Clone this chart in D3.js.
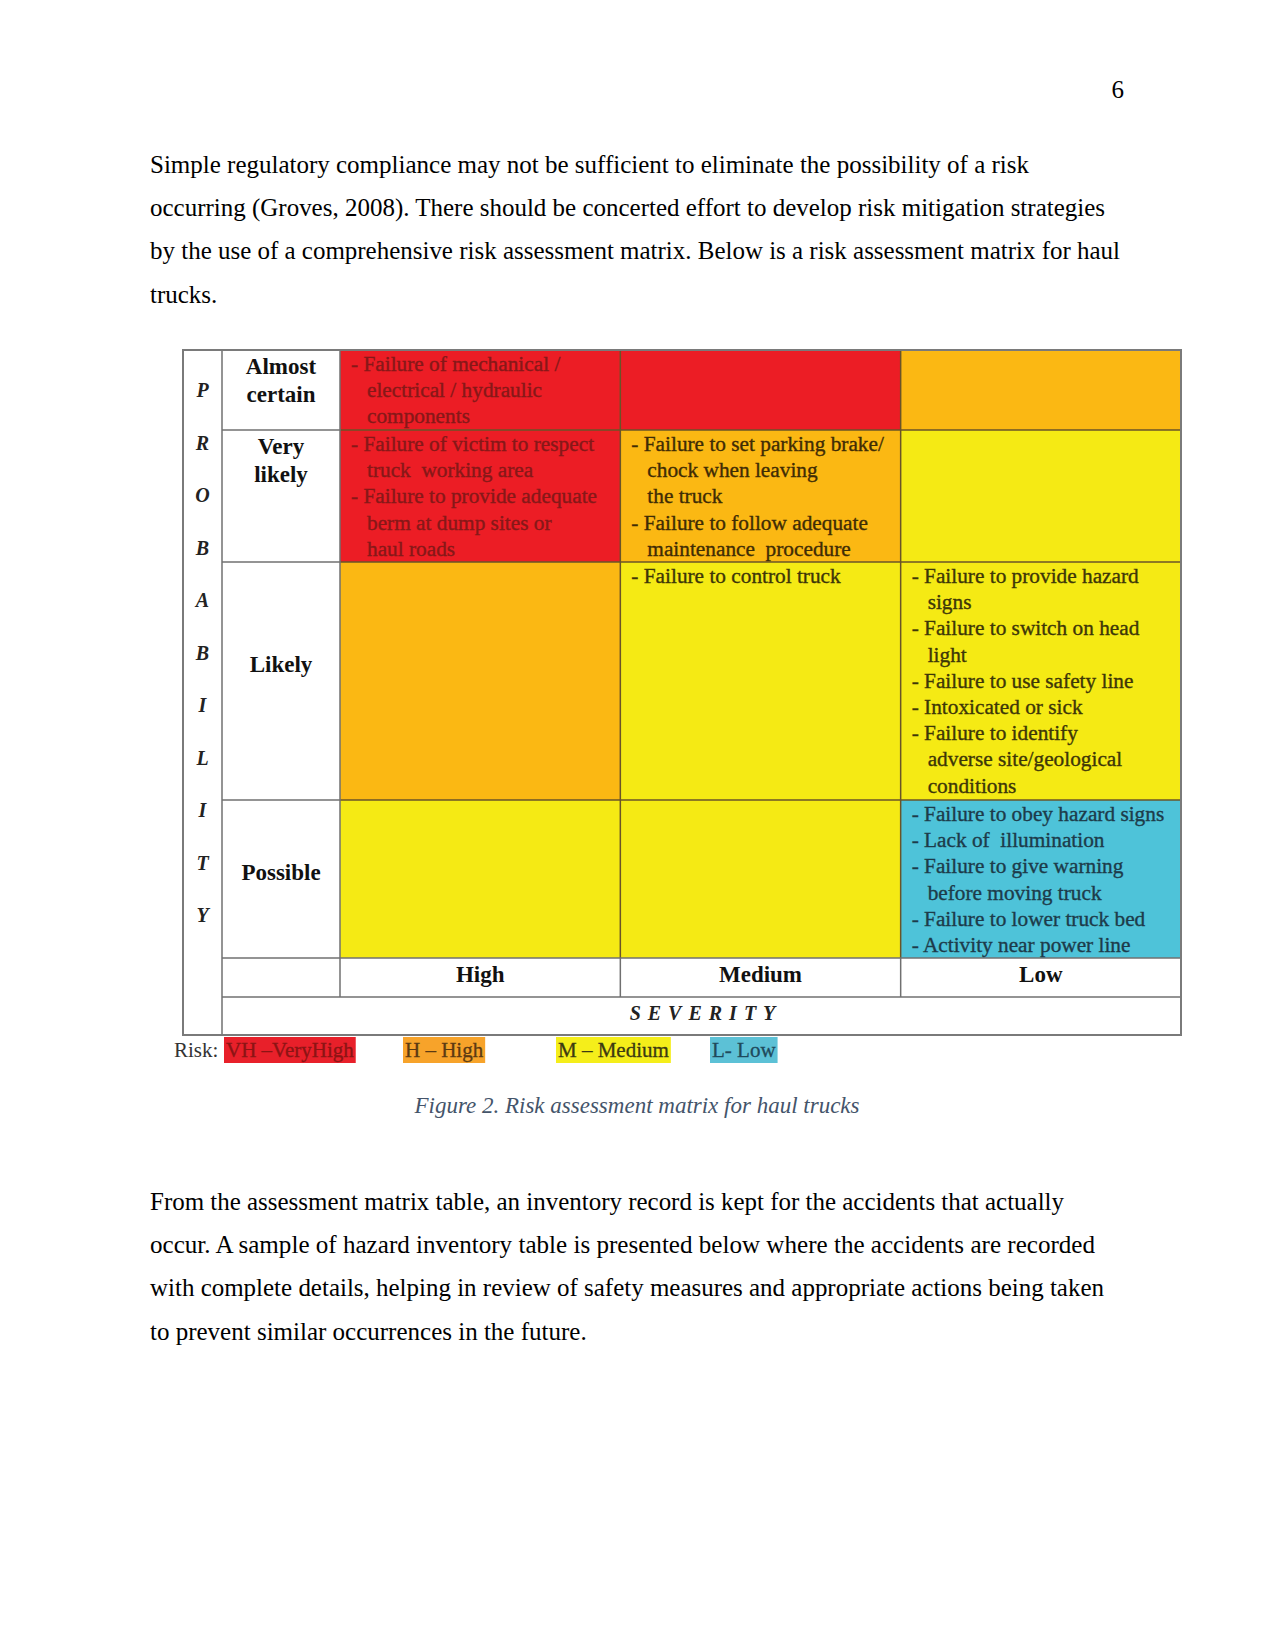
<!DOCTYPE html>
<html>
<head>
<meta charset="utf-8">
<script src="https://cdn.jsdelivr.net/npm/d3@7"></script>
<style>
  html, body { margin: 0; padding: 0; background: #fff; }
  svg { display: block; }
  text { white-space: pre; }
</style>
</head>
<body>
<svg id="page" width="1275" height="1651"></svg>
<script>
// ---------------- DATA ----------------
const likelihood = ["Almost certain", "Very likely", "Likely", "Possible"];
const severity = ["High", "Medium", "Low"];
const axisTitleY = "PROBABILITY";
const axisTitleX = "SEVERITY";
const riskLevels = ["VH", "H", "M", "L"];
const riskLegendLabels = ["VH \u2013VeryHigh", "H \u2013 High", "M \u2013 Medium", "L- Low"];
// risk level of each cell: rows = likelihood, columns = severity
const riskGrid = [
  ["VH", "VH", "H"],
  ["VH", "H",  "M"],
  ["H",  "M",  "M"],
  ["M",  "M",  "L"]
];
// hazards written in each cell (lines; "- " starts a new item)
const cellHazards = [
  [["- Failure of mechanical /", "electrical / hydraulic", "components"], [], []],
  [["- Failure of victim to respect", "truck  working area", "- Failure to provide adequate", "berm at dump sites or", "haul roads"],
   ["- Failure to set parking brake/", "chock when leaving", "the truck", "- Failure to follow adequate", "maintenance  procedure"],
   []],
  [[], ["- Failure to control truck"],
   ["- Failure to provide hazard", "signs", "- Failure to switch on head", "light", "- Failure to use safety line", "- Intoxicated or sick", "- Failure to identify", "adverse site/geological", "conditions"]],
  [[], [],
   ["- Failure to obey hazard signs", "- Lack of  illumination", "- Failure to give warning", "before moving truck", "- Failure to lower truck bed", "- Activity near power line"]]
];
const pageNumber = "6";
const paragraph1 = [
  "Simple regulatory compliance may not be sufficient to eliminate the possibility of a risk",
  "occurring (Groves, 2008). There should be concerted effort to develop risk mitigation strategies",
  "by the use of a comprehensive risk assessment matrix. Below is a risk assessment matrix for haul",
  "trucks."
];
const caption = "Figure 2. Risk assessment matrix for haul trucks";
const paragraph2 = [
  "From the assessment matrix table, an inventory record is kept for the accidents that actually",
  "occur. A sample of hazard inventory table is presented below where the accidents are recorded",
  "with complete details, helping in review of safety measures and appropriate actions being taken",
  "to prevent similar occurrences in the future."
];

// ---------------- STYLE / LAYOUT ----------------
const fills = { VH: "#EC1D25", H: "#FBB813", M: "#F5EA14", L: "#4EC3D9" };
const legendFills = { VH: "#E8202A", H: "#F7A32A", M: "#F5EE1A", L: "#5CC1D6" };
const textColors = { VH: "#861818", H: "#3f2c05", M: "#3d3608", L: "#1d3b4a" };
const legendText = { VH: "#8c1414", H: "#5c3a12", M: "#3c3a12", L: "#1f4a5c" };
const serif = "'Liberation Serif', 'Times New Roman', serif";

const svg = d3.select("#page");
svg.append("rect").attr("width", 1275).attr("height", 1651).attr("fill", "#fff");

// Body text
const bodyLineH = 43.2;
function paragraph(lines, y0, fullWidth) {
  const g = svg.append("g");
  g.selectAll("text").data(lines).join("text")
    .attr("x", 150)
    .attr("y", (d, i) => y0 + i * bodyLineH)
    .attr("font-family", serif).attr("font-size", 25).attr("fill", "#000")
    .each(function (d, i) {
      if (i < lines.length - 1) {
        d3.select(this).attr("textLength", fullWidth[i]).attr("lengthAdjust", "spacingAndGlyphs");
      }
    })
    .text(d => d);
  return g;
}
svg.append("text").attr("x", 1124).attr("y", 98).attr("text-anchor", "end")
  .attr("font-family", serif).attr("font-size", 25).text(pageNumber);
paragraph(paragraph1, 173, [879, 955, 970]);
paragraph(paragraph2, 1210, [914, 945, 954]);

// Caption
svg.append("text").attr("x", 637).attr("y", 1113).attr("text-anchor", "middle")
  .attr("font-family", serif).attr("font-style", "italic").attr("font-size", 23)
  .attr("fill", "#44546A").text(caption);

// ---------------- MATRIX ----------------
const mLeft = 183, mRight = 1181, mTop = 350;
const letterColW = 39, labelColW = 118;
const rowH = [80, 132, 238, 158];
const labelAnchor = [null, null, 0.43, 0.46];   // vertical placement of single-line row labels
const sevRowH = 39, titleRowH = 38;
const rowTops = [mTop, ...Array.from(d3.cumsum(rowH)).map(v => mTop + v)];
const gridBottom = rowTops[rowTops.length - 1];

const x = d3.scaleBand().domain(severity).range([mLeft + letterColW + labelColW, mRight]).padding(0);
const yTop = d3.scaleOrdinal().domain(likelihood).range(rowTops.slice(0, 4));
const yH = d3.scaleOrdinal().domain(likelihood).range(rowH);
const color = d3.scaleOrdinal().domain(riskLevels).range(riskLevels.map(r => fills[r]));

const m = svg.append("g");

// colored cells
const cells = [];
likelihood.forEach((lk, ri) => severity.forEach((sv, ci) => {
  cells.push({ lk, sv, risk: riskGrid[ri][ci], lines: cellHazards[ri][ci] });
}));
m.selectAll("rect.cell").data(cells).join("rect").attr("class", "cell")
  .attr("x", d => x(d.sv)).attr("y", d => yTop(d.lk))
  .attr("width", x.bandwidth()).attr("height", d => yH(d.lk))
  .attr("fill", d => color(d.risk));

// grid lines in colored area
const gridLine = "#6a5428";
m.selectAll("line.h").data(rowTops.slice(1, 4)).join("line")
  .attr("x1", x("High")).attr("x2", mRight).attr("y1", d => d).attr("y2", d => d)
  .attr("stroke", gridLine).attr("stroke-width", 1.5);
m.selectAll("line.v").data(severity.slice(1)).join("line")
  .attr("x1", d => x(d)).attr("x2", d => x(d)).attr("y1", mTop).attr("y2", gridBottom)
  .attr("stroke", gridLine).attr("stroke-width", 1.5);

// white header lines
const hdr = "#707070";
const hdrLines = [
  [mLeft + letterColW, rowTops[1], x("High"), rowTops[1]],
  [mLeft + letterColW, rowTops[2], x("High"), rowTops[2]],
  [mLeft + letterColW, rowTops[3], x("High"), rowTops[3]],
  [mLeft + letterColW, gridBottom, mRight, gridBottom],
  [mLeft + letterColW, gridBottom + sevRowH, mRight, gridBottom + sevRowH],
  [mLeft + letterColW, mTop, mLeft + letterColW, gridBottom + sevRowH + titleRowH],
  [x("High"), mTop, x("High"), gridBottom + sevRowH],
  [x("Medium"), gridBottom, x("Medium"), gridBottom + sevRowH],
  [x("Low"), gridBottom, x("Low"), gridBottom + sevRowH]
];
m.selectAll("line.hdr").data(hdrLines).join("line")
  .attr("x1", d => d[0]).attr("y1", d => d[1]).attr("x2", d => d[2]).attr("y2", d => d[3])
  .attr("stroke", hdr).attr("stroke-width", 1.5);
m.append("rect").attr("x", mLeft).attr("y", mTop)
  .attr("width", mRight - mLeft).attr("height", gridBottom + sevRowH + titleRowH - mTop)
  .attr("fill", "none").attr("stroke", "#7a7a7a").attr("stroke-width", 2);

// cell texts
const lineStep = 26.2;
cells.forEach(c => {
  m.append("g").selectAll("text").data(c.lines).join("text")
    .attr("x", d => x(c.sv) + 11 + (d.startsWith("- ") ? 0 : 16))
    .attr("y", (d, i) => yTop(c.lk) + 14 + i * lineStep)
    .attr("dominant-baseline", "central")
    .attr("font-family", serif).attr("font-size", 21.3)
    .attr("fill", textColors[c.risk])
    .attr("stroke", textColors[c.risk]).attr("stroke-width", 0.35)
    .text(d => d);
});

// row labels
const labelX = mLeft + letterColW + labelColW / 2;
likelihood.forEach((lk, ri) => {
  const words = labelAnchor[ri] === null ? lk.split(" ") : [lk];
  const y0 = labelAnchor[ri] === null ? yTop(lk) + 16 : yTop(lk) + yH(lk) * labelAnchor[ri];
  m.append("g").selectAll("text").data(words).join("text")
    .attr("x", labelX).attr("y", (d, i) => y0 + i * 28)
    .attr("text-anchor", "middle").attr("dominant-baseline", "central")
    .attr("font-family", serif).attr("font-weight", "bold").attr("font-size", 23)
    .attr("fill", "#111").text(d => d);
});

// severity labels
m.selectAll("text.sev").data(severity).join("text")
  .attr("x", d => x(d) + x.bandwidth() / 2).attr("y", gridBottom + sevRowH / 2 - 3)
  .attr("text-anchor", "middle").attr("dominant-baseline", "central")
  .attr("font-family", serif).attr("font-weight", "bold").attr("font-size", 23)
  .attr("fill", "#111").text(d => d);

// SEVERITY title
m.append("text").attr("x", 706).attr("y", gridBottom + sevRowH + titleRowH / 2 - 3)
  .attr("text-anchor", "middle").attr("dominant-baseline", "central")
  .attr("font-family", serif).attr("font-weight", "bold").attr("font-style", "italic")
  .attr("font-size", 20).attr("letter-spacing", 7).attr("fill", "#222")
  .text(axisTitleX);

// PROBABILITY letters
const letterY = d3.scalePoint().domain(d3.range(axisTitleY.length)).range([390, 915]);
m.selectAll("text.pl").data(axisTitleY.split("")).join("text")
  .attr("x", mLeft + letterColW / 2).attr("y", (d, i) => letterY(i))
  .attr("text-anchor", "middle").attr("dominant-baseline", "central")
  .attr("font-family", serif).attr("font-weight", "bold").attr("font-style", "italic")
  .attr("font-size", 20).attr("fill", "#222").text(d => d);

// ---------------- LEGEND ----------------
const legendY = 1050;
svg.append("text").attr("x", 174).attr("y", legendY).attr("dominant-baseline", "central")
  .attr("font-family", serif).attr("font-size", 21).attr("fill", "#333").text("Risk:");
const legendStops = [224, 403, 556, 710];
const lg = svg.append("g");
riskLevels.forEach((r, i) => {
  const g = lg.append("g");
  const t = g.append("text").attr("x", legendStops[i] + 2).attr("y", legendY)
    .attr("dominant-baseline", "central")
    .attr("font-family", serif).attr("font-size", 21).attr("fill", legendText[r])
    .attr("stroke", legendText[r]).attr("stroke-width", 0.3)
    .text(riskLegendLabels[i]);
  const w = t.node().getComputedTextLength();
  g.insert("rect", "text").attr("x", legendStops[i]).attr("y", legendY - 13)
    .attr("width", w + 4).attr("height", 26).attr("fill", legendFills[r]);
});
</script>
</body>
</html>
